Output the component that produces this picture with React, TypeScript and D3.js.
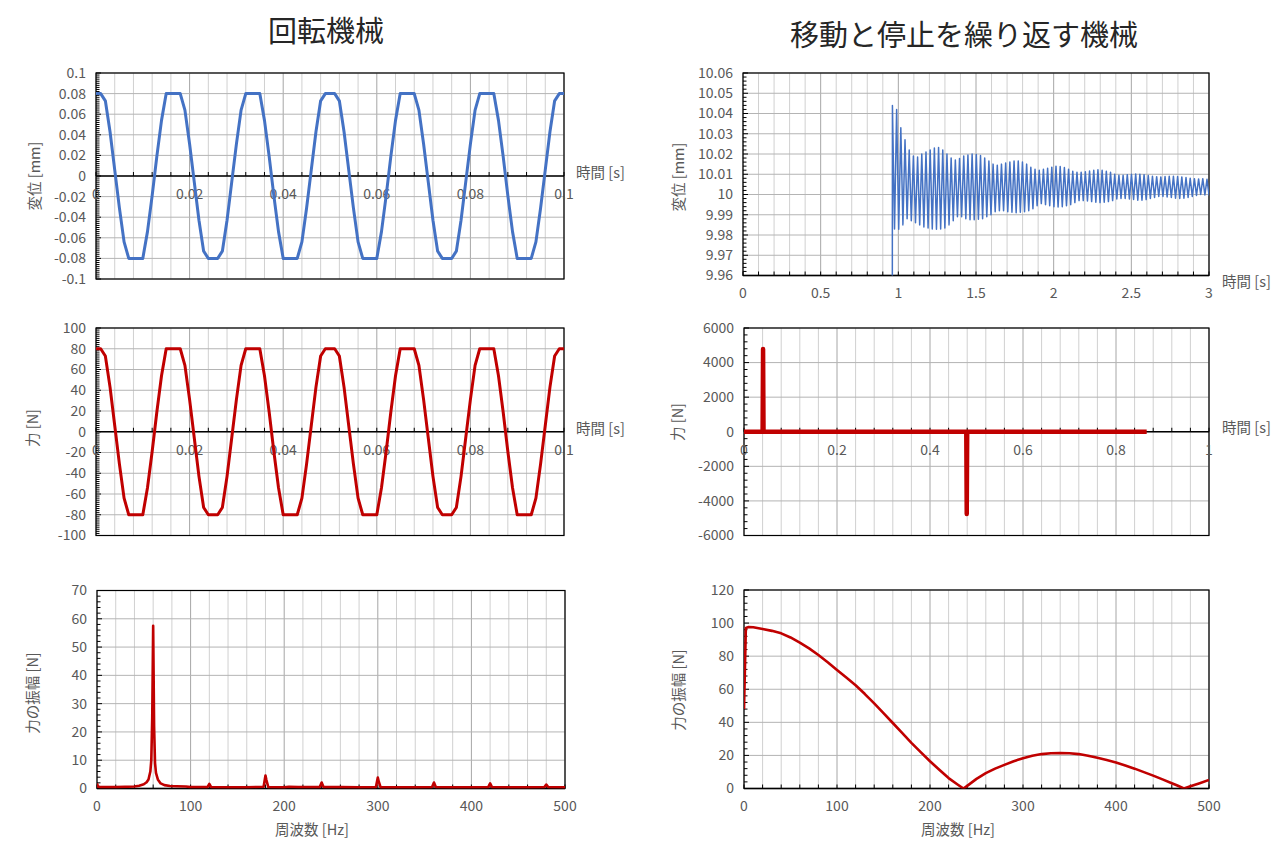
import { useEffect, useRef } from 'react';
import * as d3 from 'd3';

const W = 1280;
const H = 859;
const BLUE = '#4472C4';
const RED = '#C00000';
const FONT = '"Noto Sans CJK JP", "Noto Sans", sans-serif';
const TEXT = '#595959';

// ---- 回転機械: 1 ms samples, 0 .. 0.1 s
const rotDt = 0.001;
const rotDispMm = [
  0.08, 0.08, 0.073, 0.043, 0.006, -0.031, -0.064, -0.08, -0.08, -0.08,
  -0.08, -0.054, -0.019, 0.019, 0.054, 0.08, 0.08, 0.08, 0.08, 0.064,
  0.031, -0.006, -0.043, -0.073, -0.08, -0.08, -0.08, -0.073, -0.043, -0.006,
  0.031, 0.064, 0.08, 0.08, 0.08, 0.08, 0.054, 0.019, -0.019, -0.054,
  -0.08, -0.08, -0.08, -0.08, -0.064, -0.031, 0.006, 0.043, 0.073, 0.08,
  0.08, 0.08, 0.073, 0.043, 0.006, -0.031, -0.064, -0.08, -0.08, -0.08,
  -0.08, -0.054, -0.019, 0.019, 0.054, 0.08, 0.08, 0.08, 0.08, 0.064,
  0.031, -0.006, -0.043, -0.073, -0.08, -0.08, -0.08, -0.073, -0.043, -0.006,
  0.031, 0.064, 0.08, 0.08, 0.08, 0.08, 0.054, 0.019, -0.019, -0.054,
  -0.08, -0.08, -0.08, -0.08, -0.064, -0.031, 0.006, 0.043, 0.073, 0.08,
  0.08,
];
const rotForceN = [
  80, 80, 73, 43, 6, -31, -64, -80, -80, -80,
  -80, -54, -19, 19, 54, 80, 80, 80, 80, 64,
  31, -6, -43, -73, -80, -80, -80, -73, -43, -6,
  31, 64, 80, 80, 80, 80, 54, 19, -19, -54,
  -80, -80, -80, -80, -64, -31, 6, 43, 73, 80,
  80, 80, 73, 43, 6, -31, -64, -80, -80, -80,
  -80, -54, -19, 19, 54, 80, 80, 80, 80, 64,
  31, -6, -43, -73, -80, -80, -80, -73, -43, -6,
  31, 64, 80, 80, 80, 80, 54, 19, -19, -54,
  -80, -80, -80, -80, -64, -31, 6, 43, 73, 80,
  80,
];
const rotFreqHz = [
  0, 1, 3, 20, 40, 45, 50, 53, 55, 57,
  58, 59, 60, 61, 62, 63, 65, 68, 72, 78,
  85, 95, 100, 118, 120, 122, 140, 160, 178, 180,
  181, 183, 200, 205, 215, 238, 240, 242, 260, 280,
  298, 300, 301, 303, 320, 340, 358, 360, 362, 380,
  400, 418, 420, 422, 440, 460, 478, 480, 482, 500,
];
const rotAmpN = [
  1.8, 0.7, 0.5, 0.5, 0.7, 1.0, 1.5, 2.2, 3.2, 6,
  10, 25, 57.5, 22, 9, 5.5, 3.2, 1.8, 1.2, 0.9,
  0.8, 0.7, 0.5, 0.5, 1.6, 0.5, 0.4, 0.4, 0.6, 4.6,
  3, 0.5, 0.4, 0.6, 0.5, 0.5, 2.1, 0.5, 0.5, 0.4,
  0.5, 3.9, 2.5, 0.4, 0.4, 0.4, 0.5, 2.1, 0.5, 0.4,
  0.4, 0.5, 1.8, 0.5, 0.4, 0.4, 0.5, 1.4, 0.5, 0.4,
];

// ---- 移動と停止を繰り返す機械
const oscStartS = 0.962;
const oscPeriodS = 0.027;
const oscRestMm = 9.9; // below the axis before the stop
const oscHighMm = [
  10.044, 10.042, 10.033, 10.027, 10.022, 10.019, 10.0185, 10.02, 10.021, 10.022,
  10.023, 10.0232, 10.022, 10.02, 10.018, 10.017, 10.0178, 10.019, 10.0195, 10.02,
  10.0198, 10.0192, 10.018, 10.0165, 10.015, 10.0145, 10.015, 10.0155, 10.016, 10.0165,
  10.0166, 10.016, 10.015, 10.0135, 10.0125, 10.012, 10.0125, 10.013, 10.0135, 10.014,
  10.0138, 10.0133, 10.0125, 10.0115, 10.011, 10.011, 10.0112, 10.0116, 10.012, 10.0122,
  10.012, 10.0115, 10.011, 10.01, 10.0095, 10.0095, 10.0098, 10.01, 10.0101, 10.01,
  10.0098, 10.0094, 10.009, 10.0088, 10.0087, 10.0089, 10.009, 10.009, 10.0089, 10.0087,
  10.0084, 10.008, 10.0078, 10.0077, 10.0078, 10.0075,
];
const oscLowMm = [
  9.983, 9.9828, 9.985, 9.988, 9.987, 9.986, 9.985, 9.984, 9.9835, 9.983,
  9.9828, 9.983, 9.9835, 9.985, 9.987, 9.989, 9.989, 9.988, 9.9875, 9.9875,
  9.9878, 9.988, 9.989, 9.99, 9.9915, 9.992, 9.992, 9.9915, 9.9912, 9.991,
  9.9912, 9.9915, 9.992, 9.993, 9.9945, 9.9955, 9.995, 9.9945, 9.994, 9.9938,
  9.994, 9.9945, 9.995, 9.996, 9.997, 9.997, 9.9968, 9.9965, 9.9962, 9.996,
  9.9962, 9.9965, 9.997, 9.9978, 9.998, 9.998, 9.9978, 9.9975, 9.9972, 9.9972,
  9.9975, 9.998, 9.9985, 9.999, 9.999, 9.9988, 9.9985, 9.9982, 9.998, 9.9982,
  9.9985, 9.999, 9.9995, 10.0, 9.9998, 9.9995,
];
const pulseTimeS = [0, 0.04, 0.041, 0.042, 0.478, 0.479, 0.48, 0.866];
const pulseForceN = [0, 0, 4780, 0, 0, -4750, 0, 0];
const moveFreqHz = [
  0, 2, 5, 10, 20, 30, 40, 50, 60, 70,
  80, 90, 100, 110, 120, 130, 140, 150, 160, 170,
  180, 190, 200, 210, 220, 230, 236, 240, 250, 260,
  270, 280, 290, 300, 310, 320, 330, 340, 350, 360,
  370, 380, 390, 400, 410, 420, 430, 440, 450, 460,
  466, 473, 480, 490, 500,
];
const moveAmpN = [
  48, 97, 97.6, 97.5, 96.4, 95.3, 93.8, 91.3, 88.2, 84.7,
  80.7, 76.3, 71.6, 67.1, 62.4, 57.1, 51.5, 45.6, 39.6, 33.6,
  27.6, 22, 16.5, 11.3, 6.3, 2.3, 0, 1.6, 5.8, 9.3,
  12, 14.3, 16.5, 18.3, 19.8, 20.8, 21.3, 21.5, 21.3, 20.8,
  19.8, 18.6, 17.2, 15.7, 13.9, 12, 9.9, 7.8, 5.5, 3.2,
  1.8, 0, 1.3, 3.2, 5.2,
];

// ---- tick labels
const dispTicksRot = [-0.1, -0.08, -0.06, -0.04, -0.02, 0, 0.02, 0.04, 0.06, 0.08, 0.1];
const forceTicksRot = [-100, -80, -60, -40, -20, 0, 20, 40, 60, 80, 100];
const ampTicksRot = [0, 10, 20, 30, 40, 50, 60, 70];
const timeTicksRot = [0, 0.02, 0.04, 0.06, 0.08, 0.1];
const dispTicksMove = [9.96, 9.97, 9.98, 9.99, 10, 10.01, 10.02, 10.03, 10.04, 10.05, 10.06];
const forceTicksMove = [-6000, -4000, -2000, 0, 2000, 4000, 6000];
const ampTicksMove = [0, 20, 40, 60, 80, 100, 120];
const timeTicksMove = [0, 0.5, 1, 1.5, 2, 2.5, 3];
const timeTicksPulse = [0, 0.2, 0.4, 0.6, 0.8, 1];
const freqTicks = [0, 100, 200, 300, 400, 500];

type Pt = [number, number];

interface Panel {
  box: [number, number, number, number];
  xTicks: number[];
  xMinor: number;
  yTicks: number[];
  yMinorPer: number;
  xAtZero: boolean;
  points: Pt[];
  color: string;
  lineWidth: number;
  yTitle: string;
  yTitlePos: Pt;
  xTitle: string;
  xTitlePos: Pt;
  xTitleAnchor: string;
}

const fmt = (v: number) => String(+v.toFixed(4));

function drawPanel(svg: d3.Selection<SVGSVGElement, unknown, null, undefined>, p: Panel, idx: number) {
  const [left, top, right, bottom] = p.box;
  const xDom = d3.extent(p.xTicks) as [number, number];
  const yDom = d3.extent(p.yTicks) as [number, number];
  const x = d3.scaleLinear().domain(xDom).range([left, right]);
  const y = d3.scaleLinear().domain(yDom).range([bottom, top]);
  const g = svg.append('g');

  g.append('clipPath').attr('id', `clip-${idx}`)
    .append('rect').attr('x', left).attr('y', top).attr('width', right - left).attr('height', bottom - top);

  // vertical grid (minor + major)
  const nMinor = Math.round((xDom[1] - xDom[0]) / p.xMinor);
  const xs = d3.range(0, nMinor + 1).map(i => xDom[0] + i * p.xMinor);
  const isMajor = (v: number) => p.xTicks.some(t => Math.abs(t - v) < p.xMinor * 0.01);
  g.selectAll('.vgrid').data(xs).join('line')
    .attr('x1', d => x(d)).attr('x2', d => x(d))
    .attr('y1', top).attr('y2', bottom)
    .attr('stroke', d => (isMajor(d) ? '#a6a6a6' : '#d0d0d0'))
    .attr('stroke-width', 1);

  // horizontal grid
  g.selectAll('.hgrid').data(p.yTicks).join('line')
    .attr('x1', left).attr('x2', right)
    .attr('y1', d => y(d)).attr('y2', d => y(d))
    .attr('stroke', '#b4b4b4').attr('stroke-width', 1);

  // frame
  g.append('rect')
    .attr('x', left).attr('y', top).attr('width', right - left).attr('height', bottom - top)
    .attr('fill', 'none').attr('stroke', '#000').attr('stroke-width', 1.2);

  // y minor ticks
  const yStep = (yDom[1] - yDom[0]) / (p.yTicks.length - 1);
  const nY = (p.yTicks.length - 1) * p.yMinorPer;
  const ys = d3.range(0, nY + 1).map(i => yDom[0] + (i * yStep) / p.yMinorPer);
  g.selectAll('.ytick').data(ys).join('line')
    .attr('x1', left).attr('x2', (_, i) => left + (i % p.yMinorPer === 0 ? 5 : 3.5))
    .attr('y1', d => y(d)).attr('y2', d => y(d))
    .attr('stroke', '#000').attr('stroke-width', 1);

  // x axis line
  const axisY = p.xAtZero ? y(0) : bottom;
  g.append('line')
    .attr('x1', left).attr('x2', right).attr('y1', axisY).attr('y2', axisY)
    .attr('stroke', '#000').attr('stroke-width', 1.6);
  g.selectAll('.xtick').data(xs).join('line')
    .attr('x1', d => x(d)).attr('x2', d => x(d))
    .attr('y1', axisY).attr('y2', axisY - 4)
    .attr('stroke', '#000').attr('stroke-width', 1);

  // y labels
  g.selectAll('.ylab').data(p.yTicks).join('text')
    .attr('x', left - 10).attr('y', d => y(d)).attr('dy', '0.35em')
    .attr('text-anchor', 'end').attr('font-size', '14px').attr('fill', TEXT)
    .attr('font-family', FONT)
    .text(d => fmt(d));

  // x labels
  g.selectAll('.xlab').data(p.xTicks).join('text')
    .attr('x', d => x(d)).attr('y', axisY + 18).attr('dy', '0.35em')
    .attr('text-anchor', 'middle').attr('font-size', '14px').attr('fill', TEXT)
    .attr('font-family', FONT)
    .text(d => fmt(d));

  // series
  const line = d3.line<Pt>().x(d => x(d[0])).y(d => y(d[1]));
  g.append('path')
    .attr('clip-path', `url(#clip-${idx})`)
    .attr('d', line(p.points))
    .attr('fill', 'none').attr('stroke', p.color).attr('stroke-width', p.lineWidth)
    .attr('stroke-linejoin', 'round').attr('stroke-linecap', 'butt');

  // axis titles
  g.append('text')
    .attr('transform', `translate(${p.yTitlePos[0]},${p.yTitlePos[1]}) rotate(-90)`)
    .attr('text-anchor', 'middle').attr('dy', '0.35em')
    .attr('font-size', '14.5px').attr('fill', TEXT).attr('font-family', FONT)
    .text(p.yTitle);
  g.append('text')
    .attr('x', p.xTitlePos[0]).attr('y', p.xTitlePos[1]).attr('dy', '0.35em')
    .attr('text-anchor', p.xTitleAnchor)
    .attr('font-size', '14.5px').attr('fill', TEXT).attr('font-family', FONT)
    .text(p.xTitle);
}

export default function App() {
  const svgRef = useRef<SVGSVGElement>(null);

  useEffect(() => {
    if (!svgRef.current) return;
    const svg = d3.select(svgRef.current);
    svg.selectAll('*').remove();

    const rotDispPts: Pt[] = rotDispMm.map((v, i) => [i * rotDt, v]);
    const rotForcePts: Pt[] = rotForceN.map((v, i) => [i * rotDt, v]);
    const rotAmpPts: Pt[] = rotFreqHz.map((f, i) => [f, rotAmpN[i]]);

    const oscPts: Pt[] = [[0, oscRestMm], [oscStartS - 0.001, oscRestMm]];
    oscHighMm.forEach((hi, i) => {
      const t = oscStartS + i * oscPeriodS;
      oscPts.push([t, hi]);
      oscPts.push([t + oscPeriodS / 2, oscLowMm[i]]);
    });
    const pulsePts: Pt[] = pulseTimeS.map((t, i) => [t, pulseForceN[i]]);
    const moveAmpPts: Pt[] = moveFreqHz.map((f, i) => [f, moveAmpN[i]]);

    const panels: Panel[] = [
      {
        box: [96, 73, 564, 279], xTicks: timeTicksRot, xMinor: 0.004,
        yTicks: dispTicksRot, yMinorPer: 10, xAtZero: true,
        points: rotDispPts, color: BLUE, lineWidth: 3,
        yTitle: '変位 [mm]', yTitlePos: [35, 176],
        xTitle: '時間 [s]', xTitlePos: [576, 173], xTitleAnchor: 'start',
      },
      {
        box: [96, 328, 564, 535.5], xTicks: timeTicksRot, xMinor: 0.004,
        yTicks: forceTicksRot, yMinorPer: 10, xAtZero: true,
        points: rotForcePts, color: RED, lineWidth: 3,
        yTitle: '力 [N]', yTitlePos: [33, 428],
        xTitle: '時間 [s]', xTitlePos: [576, 429], xTitleAnchor: 'start',
      },
      {
        box: [97, 590.5, 565, 788.5], xTicks: freqTicks, xMinor: 20,
        yTicks: ampTicksRot, yMinorPer: 5, xAtZero: false,
        points: rotAmpPts, color: RED, lineWidth: 2.6,
        yTitle: '力の振幅 [N]', yTitlePos: [33, 693],
        xTitle: '周波数 [Hz]', xTitlePos: [312, 830], xTitleAnchor: 'middle',
      },
      {
        box: [743, 73, 1209, 275.5], xTicks: timeTicksMove, xMinor: 0.1,
        yTicks: dispTicksMove, yMinorPer: 5, xAtZero: false,
        points: oscPts, color: BLUE, lineWidth: 1.5,
        yTitle: '変位 [mm]', yTitlePos: [679, 177],
        xTitle: '時間 [s]', xTitlePos: [1222, 282], xTitleAnchor: 'start',
      },
      {
        box: [744, 328, 1209, 535.5], xTicks: timeTicksPulse, xMinor: 0.04,
        yTicks: forceTicksMove, yMinorPer: 5, xAtZero: true,
        points: pulsePts, color: RED, lineWidth: 4.5,
        yTitle: '力 [N]', yTitlePos: [678, 422],
        xTitle: '時間 [s]', xTitlePos: [1222, 428], xTitleAnchor: 'start',
      },
      {
        box: [744, 590, 1209, 788.5], xTicks: freqTicks, xMinor: 20,
        yTicks: ampTicksMove, yMinorPer: 5, xAtZero: false,
        points: moveAmpPts, color: RED, lineWidth: 2.6,
        yTitle: '力の振幅 [N]', yTitlePos: [679, 690],
        xTitle: '周波数 [Hz]', xTitlePos: [958, 830], xTitleAnchor: 'middle',
      },
    ];

    panels.forEach((p, i) => drawPanel(svg, p, i));

    // chart titles
    svg.append('text')
      .attr('x', 326).attr('y', 32).attr('dy', '0.35em')
      .attr('text-anchor', 'middle').attr('font-size', '29px')
      .attr('fill', '#262626').attr('font-family', FONT)
      .text('回転機械');
    svg.append('text')
      .attr('x', 964).attr('y', 36).attr('dy', '0.35em')
      .attr('text-anchor', 'middle').attr('font-size', '29px')
      .attr('fill', '#262626').attr('font-family', FONT)
      .text('移動と停止を繰り返す機械');
  }, []);

  return (
    <svg
      ref={svgRef}
      width={W}
      height={H}
      style={{ position: 'absolute', left: 0, top: 0, background: '#fff' }}
    />
  );
}
